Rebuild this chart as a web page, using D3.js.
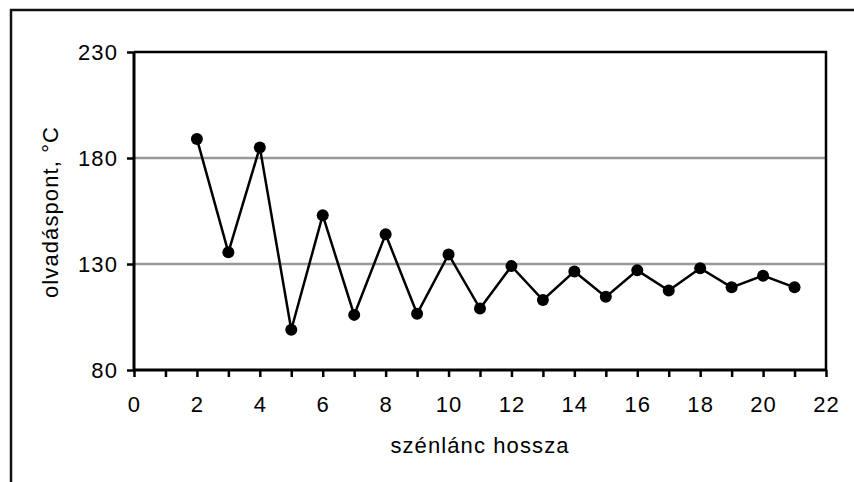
<!DOCTYPE html>
<html><head><meta charset="utf-8">
<script src="https://cdn.jsdelivr.net/npm/d3@7/dist/d3.min.js"></script>
<style>html,body{margin:0;padding:0;background:#fff;overflow:hidden}</style>
</head><body>
<svg id="c" width="854" height="482"></svg>
<script>
const chainLength = [2,3,4,5,6,7,8,9,10,11,12,13,14,15,16,17,18,19,20,21];
const meltingPoint = [189,135.5,185,99,153,106,144,106.5,134.5,109,129,113,126.5,114.5,127,117.5,128,119,124.5,119];
const xTickLabels = [0,2,4,6,8,10,12,14,16,18,20,22];
const yTickLabels = [80,130,180,230];
const xTitle = "szénlánc hossza";
const yTitle = "olvadáspont, °C";

const svg = d3.select("#c");
const font = "'Liberation Sans', Arial, sans-serif";
const fs = "22px", ls = "1.1px";
const L = 134, R = 826, T = 52, B = 370;
const x = d3.scaleLinear().domain([0,22]).range([L,R]);
const y = d3.scaleLinear().domain([80,230]).range([B,T]);

// outer frame (extends past right/bottom edge)
svg.append("rect").attr("x",11).attr("y",10).attr("width",900).attr("height",600)
  .attr("fill","none").attr("stroke","#111").attr("stroke-width",2.5);

// gridlines
svg.append("g").selectAll("line").data(yTickLabels.filter(v=>v>80 && v<230)).join("line")
  .attr("x1",L).attr("x2",R).attr("y1",d=>y(d)).attr("y2",d=>y(d))
  .attr("stroke","#999").attr("stroke-width",2.5);

// plot border top/right
svg.append("path").attr("d",`M${L},${T}H${R}V${B}`).attr("fill","none")
  .attr("stroke","#000").attr("stroke-width",2.5);

// axes
const xAxis = d3.axisBottom(x).tickValues(d3.range(0,23,1)).tickSize(7)
  .tickFormat(d => xTickLabels.includes(d) ? d : "").tickPadding(19);
const gx = svg.append("g").attr("transform",`translate(0,${B})`).call(xAxis);
const yAxis = d3.axisLeft(y).tickValues(yTickLabels).tickSize(7).tickPadding(9);
const gy = svg.append("g").attr("transform",`translate(${L},0)`).call(yAxis);
[gx,gy].forEach(g=>{
  g.select(".domain").attr("stroke","#000").attr("stroke-width",3);
  g.selectAll(".tick line").attr("stroke","#000").attr("stroke-width",2.5);
  g.selectAll("text").attr("fill","#000").style("font-family",font).style("font-size",fs)
    .style("letter-spacing",ls);
});
gy.select(".domain").attr("d",`M0,${B}V${T}`);
gx.select(".domain").attr("d",`M${L},0H${R}`);

// line and markers
const pts = chainLength.map((c,i)=>[c,meltingPoint[i]]);
svg.append("path").datum(pts)
  .attr("d", d3.line().x(d=>x(d[0])).y(d=>y(d[1])))
  .attr("fill","none").attr("stroke","#000").attr("stroke-width",2.5);
svg.append("g").selectAll("circle").data(pts).join("circle")
  .attr("cx",d=>x(d[0])).attr("cy",d=>y(d[1])).attr("r",6).attr("fill","#000");

// titles
svg.append("text").attr("x",(L+R)/2).attr("y",453).attr("text-anchor","middle")
  .style("font-family",font).style("font-size",fs).style("letter-spacing",ls).text(xTitle);
svg.append("text").attr("transform",`translate(58,212) rotate(-90)`).attr("text-anchor","middle")
  .style("font-family",font).style("font-size",fs).style("letter-spacing",ls).text(yTitle);
</script>
</body></html>
